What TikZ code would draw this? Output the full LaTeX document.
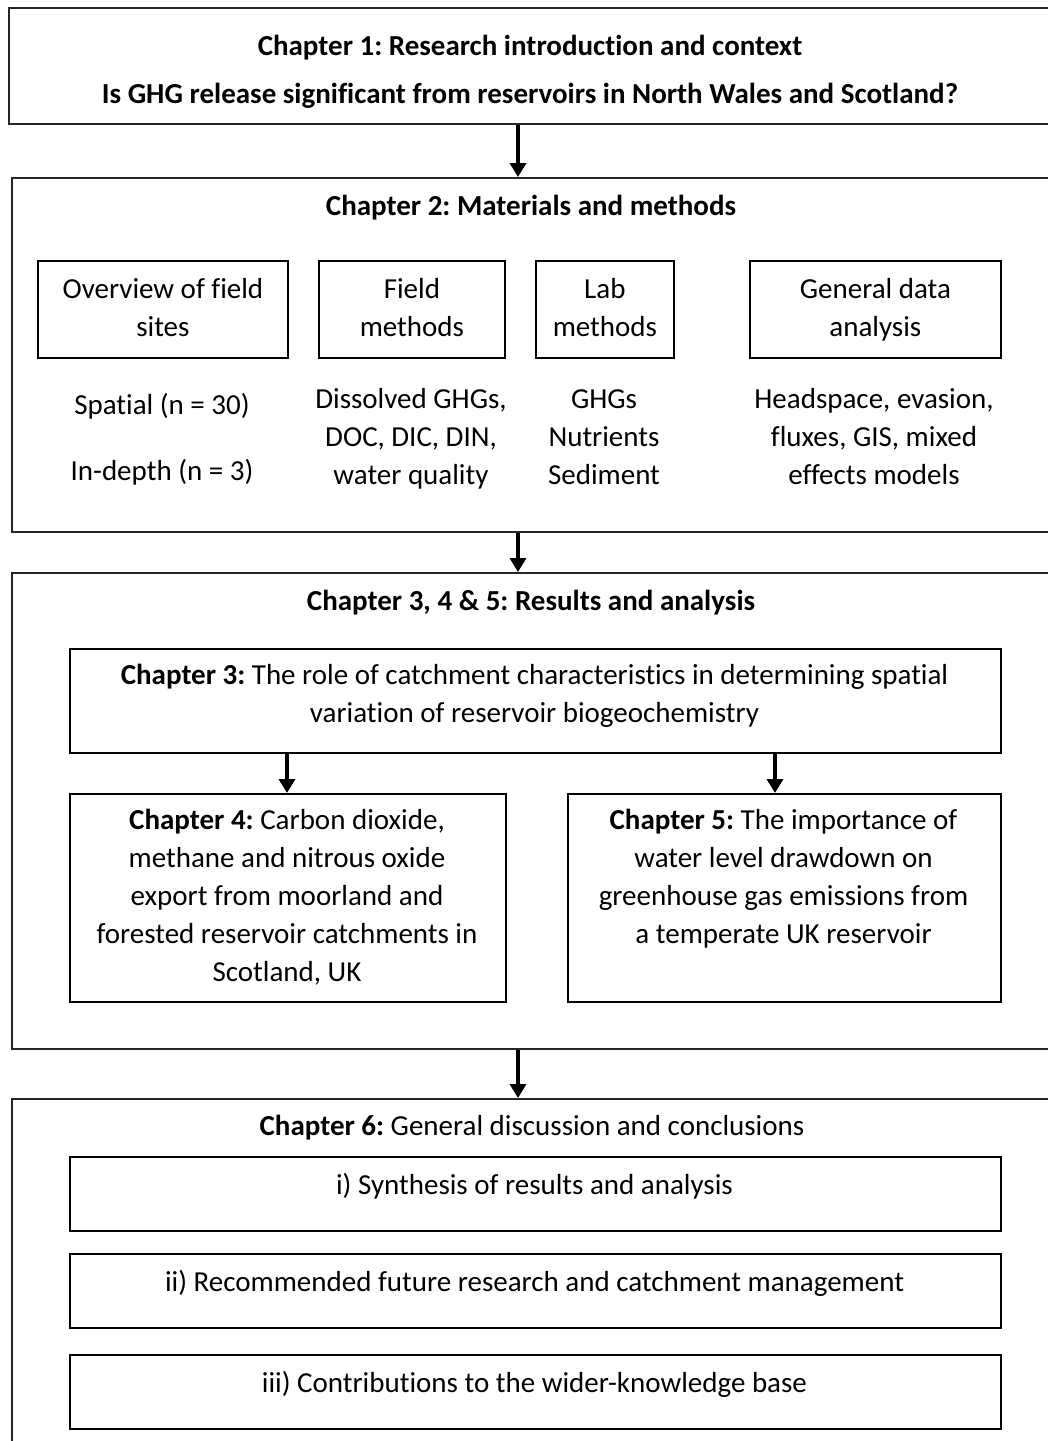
\documentclass[tikz,border=0pt]{standalone}
\usepackage{fontspec}
\setmainfont{Carlito}[Ligatures={NoCommon,NoContextual}]
\usetikzlibrary{arrows.meta}
\frenchspacing
\begin{document}
\begin{tikzpicture}[x=1pt,y=-1pt,
  outerbox/.style={draw=black!85,line width=1.6pt,inner sep=0pt,anchor=north west},
  innerbox/.style={draw=black,line width=1.8pt,inner sep=0pt,anchor=north west},
  txt/.style={font=\fontsize{29}{38}\selectfont,align=center,inner sep=0pt},
  btxt/.style={txt,font=\fontsize{29}{38}\selectfont\bfseries},
  arr/.style={line width=3.5pt,-{Triangle[width=16pt,length=14pt]}}]
\useasboundingbox (0,0) rectangle (1048,1441);
% outer boxes
\node[outerbox,minimum width=1044pt,minimum height=116pt] (b1) at (8,7) {};
\node[outerbox,minimum width=1041pt,minimum height=354pt] (b2) at (11,177) {};
\node[outerbox,minimum width=1041pt,minimum height=476pt] (b3) at (11,572) {};
\node[outerbox,minimum width=1041pt,minimum height=370pt] (b5) at (11,1098) {};
% chapter 1
\node[btxt] (t1a) at (530,48) {\strut Chapter 1: Research introduction and context};
\node[btxt] (t1b) at (530,96) {\strut Is GHG release significant from reservoirs in North Wales and Scotland?};
% chapter 2
\node[btxt] (t2) at (531,208) {\strut Chapter 2: Materials and methods};
\node[innerbox,minimum width=250pt,minimum height=97pt] (s1) at (37,260) {};
\node[innerbox,minimum width=186pt,minimum height=97pt] (s2) at (318,260) {};
\node[innerbox,minimum width=138pt,minimum height=97pt] (s3) at (535,260) {};
\node[innerbox,minimum width=251pt,minimum height=97pt] (s4) at (749,260) {};
\node[txt] (s1t) at (s1.center) {\strut Overview of field\\\strut sites};
\node[txt] (s2t) at (s2.center) {\strut Field\\\strut methods};
\node[txt] (s3t) at (s3.center) {\strut Lab\\\strut methods};
\node[txt] (s4t) at (s4.center) {\strut General data\\\strut analysis};
\node[txt] (d1a) at (162,407) {\strut Spatial (n = 30)};
\node[txt] (d1b) at (162,473) {\strut In-depth (n = 3)};
\node[txt] (d2) at (411,439) {\strut Dissolved GHGs,\\\strut DOC, DIC, DIN,\\\strut water quality};
\node[txt] (d3) at (604,439) {\strut GHGs\\\strut Nutrients\\\strut Sediment};
\node[txt] (d4) at (874,439) {\strut Headspace, evasion,\\\strut fluxes, GIS, mixed\\\strut effects models};
% chapter 3-5
\node[btxt] (t3) at (531,603) {\strut Chapter 3, 4 \& 5: Results and analysis};
\node[innerbox,minimum width=931pt,minimum height=104pt] (c3) at (69,648) {};
\node[txt] (c3t) at (534.5,696) {\strut\textbf{Chapter 3:} The role of catchment characteristics in determining spatial\\\strut variation of reservoir biogeochemistry};
\node[innerbox,minimum width=436pt,minimum height=208pt] (c4) at (69,793) {};
\node[innerbox,minimum width=433pt,minimum height=208pt] (c5) at (567,793) {};
\node[txt] (c4t) at (287,898) {\strut\textbf{Chapter 4:} Carbon dioxide,\\\strut methane and nitrous oxide\\\strut export from moorland and\\\strut forested reservoir catchments in\\\strut Scotland, UK};
\node[txt] (c5t) at (783.5,879) {\strut\textbf{Chapter 5:} The importance of\\\strut water level drawdown on\\\strut greenhouse gas emissions from\\\strut a temperate UK reservoir};
% chapter 6
\node[txt] (t6) at (532,1128) {\strut\textbf{Chapter 6:} General discussion and conclusions};
\node[innerbox,minimum width=931pt,minimum height=74pt] (r1) at (69,1156) {};
\node[innerbox,minimum width=931pt,minimum height=74pt] (r2) at (69,1253) {};
\node[innerbox,minimum width=931pt,minimum height=74pt] (r3) at (69,1354) {};
\node[txt] (r1t) at (534.5,1187) {\strut i) Synthesis of results and analysis};
\node[txt] (r2t) at (534.5,1284) {\strut ii) Recommended future research and catchment management};
\node[txt] (r3t) at (534.5,1385) {\strut iii) Contributions to the wider-knowledge base};
% arrows
\coordinate (ax) at (518,0);
\coordinate (al) at (287,0);
\coordinate (ar) at (775,0);
\draw[arr] (b1.south -| ax) -- (b2.north -| ax);
\draw[arr] (b2.south -| ax) -- (b3.north -| ax);
\draw[arr] (c3.south -| al) -- (c4.north -| al);
\draw[arr] (c3.south -| ar) -- (c5.north -| ar);
\draw[arr] (b3.south -| ax) -- (b5.north -| ax);
\end{tikzpicture}
\end{document}
